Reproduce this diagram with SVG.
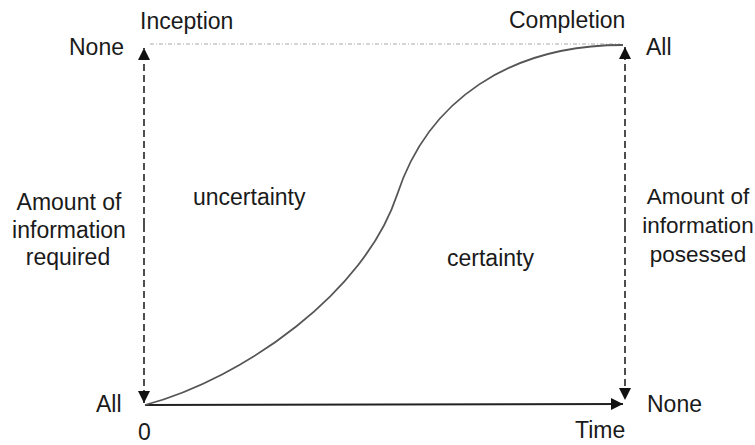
<svg xmlns="http://www.w3.org/2000/svg" width="755" height="445" viewBox="0 0 755 445">
<defs>
<style>
text{font-family:"Liberation Sans",Arial,sans-serif;font-size:23px;fill:#1a1a1a}
.r{font-size:22.5px}
.dash{stroke:#222;stroke-width:1.6;stroke-dasharray:7,4;fill:none}
.dot{stroke:#aaa;stroke-width:1;stroke-dasharray:4,2,1,2;fill:none}
.axis{stroke:#222;stroke-width:1.8;fill:none}
.curve{stroke:#555;stroke-width:1.8;fill:none}
</style>
<marker id="ah" viewBox="0 0 10 10" refX="10" refY="5" markerWidth="12" markerHeight="12" markerUnits="userSpaceOnUse" orient="auto">
<path d="M0,0 L10,5 L0,10 Z" fill="#111"/>
</marker>
</defs>
<rect width="755" height="445" fill="#fff"/>
<g id="connectors">
<line class="dot" x1="150" y1="44" x2="620" y2="44"/>
<line class="dash" x1="144" y1="225" x2="144" y2="48" marker-end="url(#ah)"/>
<line class="dash" x1="144" y1="225" x2="144" y2="403" marker-end="url(#ah)"/>
<line class="dash" x1="625" y1="225" x2="625" y2="47" marker-end="url(#ah)"/>
<line class="dash" x1="625" y1="225" x2="625" y2="400" marker-end="url(#ah)"/>
<line class="axis" x1="145" y1="405" x2="623" y2="404" marker-end="url(#ah)"/>
<path class="curve" d="M145,405 C245,378 365,292 397,195 C428,100 510,45 623,45"/>
</g>
<g id="inception"><text x="140" y="29">Inception</text></g>
<g id="completion"><text x="509" y="28">Completion</text></g>
<g id="none-top"><text x="69" y="55">None</text></g>
<g id="all-top"><text x="646" y="55">All</text></g>
<g id="info-required"><text text-anchor="middle" x="69" y="210">Amount of</text><text text-anchor="middle" x="69" y="238">information</text><text text-anchor="middle" x="68" y="265">required</text></g>
<g id="info-possessed"><text class="r" text-anchor="middle" x="698" y="204">Amount of</text><text class="r" text-anchor="middle" x="698" y="233">information</text><text class="r" text-anchor="middle" x="698" y="262">posessed</text></g>
<g id="uncertainty"><text x="193" y="205">uncertainty</text></g>
<g id="certainty"><text x="447" y="266">certainty</text></g>
<g id="all-bottom"><text x="96" y="412">All</text></g>
<g id="zero"><text x="138" y="440">0</text></g>
<g id="none-bottom"><text x="647" y="412">None</text></g>
<g id="time"><text x="575" y="438">Time</text></g>
</svg>
